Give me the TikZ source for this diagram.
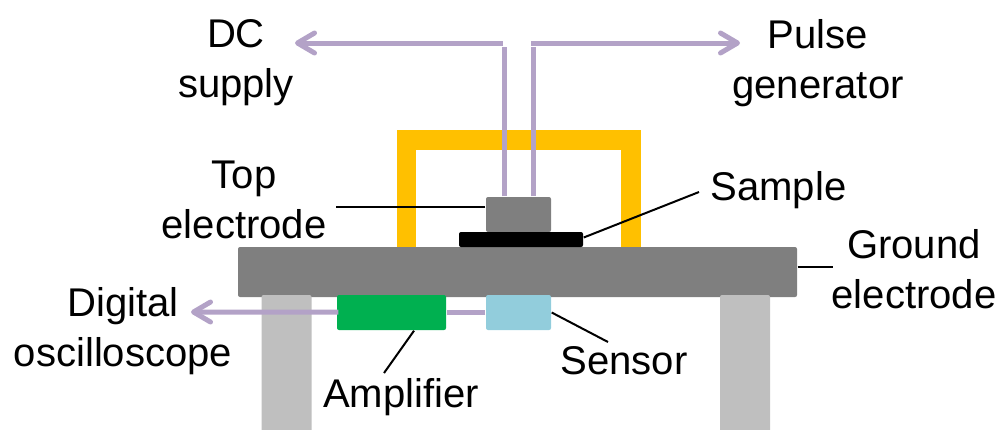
\documentclass[tikz,border=0pt]{standalone}
\usepackage{fontspec}
\setmainfont{Liberation Sans}
\usepackage{xcolor}
\usepackage{tikz}
\usetikzlibrary{positioning, arrows.meta}
\usetikzlibrary{calc}
\definecolor{wirecolor}{HTML}{B3A2C7}
\definecolor{framecolor}{HTML}{FFC000}
\definecolor{platecolor}{HTML}{7F7F7F}
\definecolor{legcolor}{HTML}{BFBFBF}
\definecolor{ampcolor}{HTML}{00B050}
\definecolor{sensorcolor}{HTML}{92CDDC}
\tikzstyle{block} = [rectangle, rounded corners=0.02cm, inner sep=0pt, minimum height=0.35cm]
\tikzstyle{plate} = [block, fill=platecolor]
\tikzstyle{leg} = [block, fill=legcolor, minimum width=0.5cm, minimum height=1.4cm]
\tikzstyle{wire} = [wirecolor, line width=0.05cm]
\tikzstyle{arrow} = [wire, -{Straight Barb[length=0.17cm,width=0.2cm,round]}]
\tikzstyle{leader} = [black, line width=0.02cm]
\tikzstyle{label} = [inner sep=0pt, align=center, font=\fontsize{11.4pt}{14.2pt}\selectfont]

\begin{document}
\begin{tikzpicture}
		\useasboundingbox (0,0) rectangle (10,4.29);
		\draw [framecolor, line width=0.195cm] (4.065,1.82) -- (4.065,2.89) -- (6.31,2.89) -- (6.31,1.82);
		\node (ground) [plate, minimum width=5.59cm, minimum height=0.5cm] at (5.175,1.57) {};
		\node (legl) [leg] at (2.865,0.64) {};
		\node (legr) [leg] at (7.45,0.64) {};
		\node (top) [plate, minimum width=0.65cm] at (5.185,2.145) {};
		\node (sample) [block, fill=black, minimum width=1.24cm, minimum height=0.15cm] at (5.21,1.895) {};
		\node (amp) [block, fill=ampcolor, minimum width=1.09cm] at (3.915,1.165) {};
		\node (sensor) [block, fill=sensorcolor, minimum width=0.65cm] at (5.185,1.165) {};
		\node (dc) [label] at (2.36,3.66) {DC\\supply};
		\node (pulse) [label] at (8.18,3.66) {Pulse\\generator};
		\node (toplabel) [label] at (2.44,2.29) {Top\\electrode};
		\node (samplelabel) [label] at (7.785,2.39) {Sample};
		\node (groundlabel) [label] at (9.14,1.60) {Ground\\electrode};
		\node (scope) [label] at (1.23,0.98) {Digital\\oscilloscope};
		\node (amplabel) [label] at (4.01,0.32) {Amplifier};
		\node (sensorlabel) [label] at (6.24,0.68) {Sensor};
		\coordinate (dcup) at (5.04,3.82);
		\coordinate (dcturn) at (5.03,3.86);
		\coordinate (dcend) at (2.95,3.86);
		\coordinate (pulseup) at (5.33,3.82);
		\coordinate (pulseturn) at (5.31,3.86);
		\coordinate (pulseend) at (7.4,3.86);
		\coordinate (scopeend) at (1.91,1.17);
		\draw [wire](top.north -| dcup) -- (dcup);
		\draw [wire](top.north -| pulseup) -- (pulseup);
		\draw [arrow](dcturn) -- (dcend);
		\draw [arrow](pulseturn) -- (pulseend);
		\draw [arrow]($(amp.west)+(0.02,0.005)$) -- (scopeend);
		\draw [wire]($(sensor.west)+(0,0.005)$) -- ($(amp.east)+(0,0.005)$);
		\coordinate (toptick) at (3.36,2.22);
		\coordinate (sampletick) at (6.99,2.37);
		\coordinate (groundtick) at (8.33,1.62);
		\coordinate (sensortick) at (6.08,0.87);
		\coordinate (amptick) at (3.84,0.56);
		\draw [leader](top.west |- toptick) -- (toptick);
		\draw [leader]($(sample.east)+(0,0.02)$) -- (sampletick);
		\draw [leader](ground.east |- groundtick) -- (groundtick);
		\draw [leader](sensor.east) -- (sensortick);
		\draw [leader]($(amp.south)+(0.225,0)$) -- (amptick);
	\end{tikzpicture}
\end{document}
